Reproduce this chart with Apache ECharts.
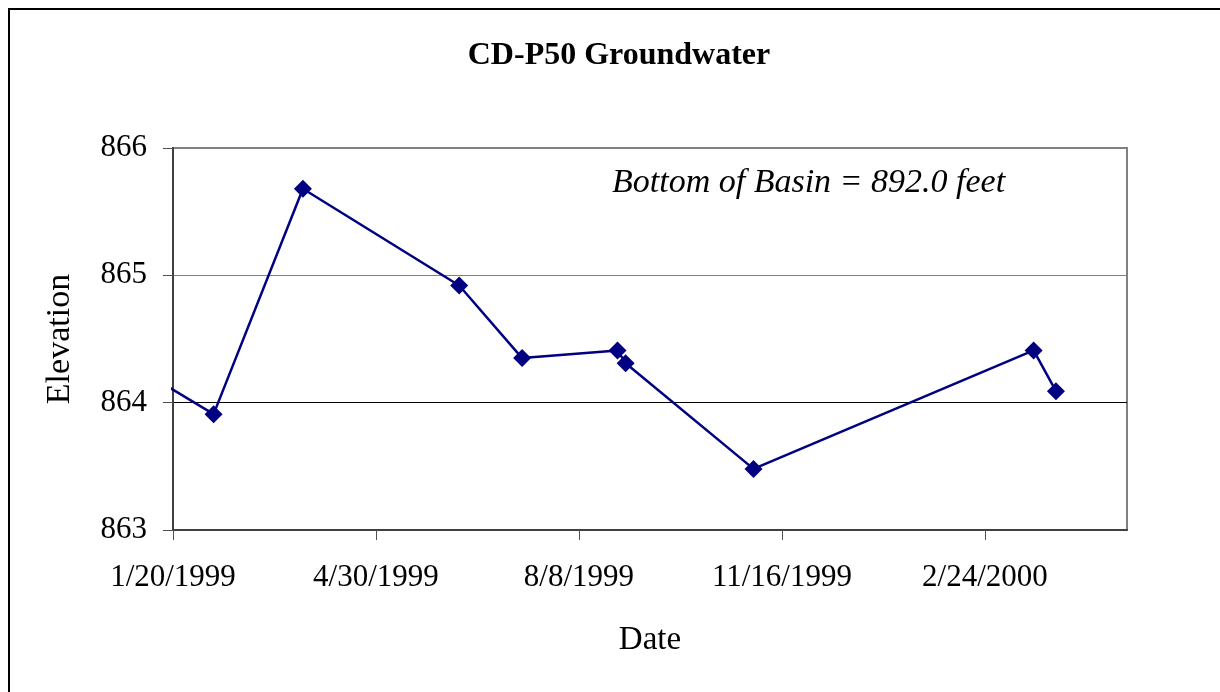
<!DOCTYPE html>
<html>
<head>
<meta charset="utf-8">
<script src="https://cdn.jsdelivr.net/npm/echarts@6/dist/echarts.min.js"></script>
<style>
  html, body { margin: 0; padding: 0; background: #fff; }
  #chart { width: 1220px; height: 692px; }
</style>
</head>
<body>
<div id="chart"></div>
<script>
// 数据
const dates = ['1/16/1999', '2/9/1999', '3/25/1999', '6/10/1999', '7/11/1999',
  '8/27/1999', '8/31/1999', '11/2/1999', '3/19/2000', '3/30/2000'];
const elevations = [864.14, 863.91, 865.68, 864.92, 864.35, 864.41, 864.31, 863.48, 864.41, 864.09];
const xTickDays = [0, 100, 200, 300, 400];   // 1/20/1999 起算的天数
const startDate = '1/20/1999';
const endDays = 470;

const serif = 'Liberation Serif';

function toUTC(s) {
  const p = s.split('/').map(Number);
  return Date.UTC(p[2], p[0] - 1, p[1]);
}
const dayMs = 86400000;
const t0 = toUTC(startDate);

function dayLabel(d) {
  const dt = new Date(t0 + d * dayMs);
  return (dt.getUTCMonth() + 1) + '/' + dt.getUTCDate() + '/' + dt.getUTCFullYear();
}

const seriesData = dates.map((d, i) => {
  const item = { value: [(toUTC(d) - t0) / dayMs, elevations[i]] };
  // 第一个点在坐标轴左侧，只画线不画点
  if (i === 0) item.symbol = 'none';
  return item;
});

const chart = echarts.init(document.getElementById('chart'));

const option = {
  backgroundColor: '#fff',
  animation: false,
  title: {
    text: 'CD-P50 Groundwater',
    left: 614,
    textAlign: 'center',
    top: 35,
    textStyle: { fontFamily: serif, fontWeight: 'bold', fontSize: 32, color: '#000' }
  },
  grid: {
    left: 173, right: 93, top: 148, bottom: 162,
    show: true,
    borderColor: '#808080',
    borderWidth: 2,
    backgroundColor: '#fff'
  },
  xAxis: {
    type: 'value',
    min: 0,
    max: endDays,
    interval: 100,
    name: 'Date',
    nameLocation: 'middle',
    nameGap: 94,
    nameTextStyle: { fontFamily: serif, fontSize: 33, color: '#000' },
    axisLine: { show: true, lineStyle: { color: '#404040', width: 2 } },
    axisTick: { show: true, length: 10, customValues: xTickDays, lineStyle: { color: '#505050' } },
    axisLabel: {
      customValues: xTickDays,
      margin: 32,
      fontFamily: serif, fontSize: 31, color: '#000',
      formatter: v => dayLabel(v)
    },
    splitLine: { show: false }
  },
  yAxis: {
    type: 'value',
    min: 863,
    max: 866,
    interval: 1,
    name: 'Elevation',
    nameLocation: 'middle',
    nameGap: 96,
    nameTextStyle: { fontFamily: serif, fontSize: 34, color: '#000' },
    axisLine: { show: true, lineStyle: { color: '#404040', width: 2 } },
    axisTick: { show: true, length: 10, lineStyle: { color: '#505050' } },
    axisLabel: { margin: 26, fontFamily: serif, fontSize: 31, color: '#000' },
    splitLine: { show: true, lineStyle: { color: ['#404040', '#000', '#808080', '#808080'], width: 1 } }
  },
  graphic: [
    {
      type: 'rect',
      shape: { x: 9, y: 9, width: 1400, height: 900 },
      style: { fill: 'none', stroke: '#000', lineWidth: 2 },
      z: 100
    },
    {
      type: 'text',
      left: 612,
      top: 166,
      style: {
        text: 'Bottom of Basin = 892.0 feet',
        font: 'italic 34px "Liberation Serif"',
        fill: '#000'
      }
    }
  ],
  series: [
    {
      type: 'line',
      data: seriesData,
      clip: false,
      symbol: 'diamond',
      symbolSize: 18,
      lineStyle: { color: '#000080', width: 2.5 },
      itemStyle: { color: '#000080' }
    }
  ]
};

chart.setOption(option);
</script>
</body>
</html>
